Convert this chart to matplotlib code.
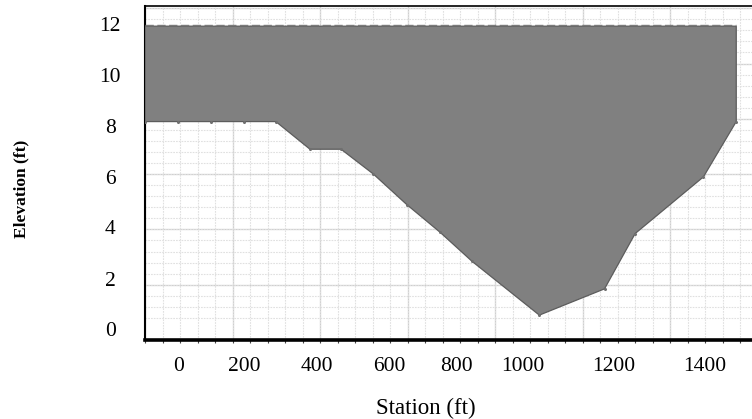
import matplotlib
matplotlib.use("Agg")
import matplotlib.pyplot as plt
import numpy as np

# ---- data ----
station = [0, 76, 151, 226, 299, 377, 448, 522, 598, 674, 747, 901, 1050, 1120, 1276, 1351]
elevation = [7.9, 7.9, 7.9, 7.9, 7.9, 6.9, 6.9, 6.0, 4.9, 3.9, 2.85, 0.9, 1.85, 3.85, 5.9, 7.9]
water_surface = 11.35
energy_grade = 11.41

xtick_labels = ["0", "200", "400", "600", "800", "1000", "1200", "1400"]
ytick_labels = ["0", "2", "4", "6", "8", "10", "12"]

# positions where the (offset) labels appear in the reference, in data units
xtick_pos = [76, 227, 392, 559, 711, 863, 1072, 1278]
ytick_pos = [0.40, 2.21, 4.07, 5.88, 7.74, 9.59, 11.43]

serif = "Liberation Serif"

fig = plt.figure(figsize=(7.52, 4.19), dpi=100)
ax = fig.add_axes([145 / 752, 79 / 419, 607 / 752, 334 / 419])
ax.set_xlim(0, 1387)
ax.set_ylim(0, 12.08)

# grid
ax.set_xticks(np.arange(0, 1387, 40), minor=True)
ax.set_yticks(np.arange(0, 12.08, 0.4), minor=True)
ax.grid(which="minor", color="#e0e0e0", lw=0.8, ls=(0, (1.5, 1)), zorder=0)
for v in np.arange(0, 1387, 200):
    ax.axvline(v, color="#cdcdcd", lw=0.9, zorder=1)
for h in np.arange(0, 12.1, 2):
    ax.axhline(h, color="#cdcdcd", lw=0.9, zorder=1)

# wetted cross-section
poly_x = [station[0]] + station + [station[-1]]
poly_y = [water_surface] + elevation + [water_surface]
ax.fill(poly_x, poly_y, facecolor="#808080", edgecolor="#5c5c5c", lw=0.9, zorder=3)
ax.plot(station, elevation, "o", ms=1.2, color="#707070", zorder=4)
ax.hlines(energy_grade, station[0], station[-1], colors="#7a7a7a",
          linestyles=(0, (6, 2.5)), lw=1, zorder=4)

# spines
ax.spines["right"].set_visible(False)
ax.spines["top"].set_linewidth(1.2)
ax.spines["left"].set_linewidth(1.5)
ax.spines["bottom"].set_linewidth(2.6)
for s in ax.spines.values():
    s.set_color("black")

# ticks / labels
ax.set_xticks(xtick_pos, xtick_labels)
ax.set_yticks(ytick_pos, ytick_labels)
ax.tick_params(which="major", length=0)
ax.tick_params(axis="x", which="major", pad=12, labelsize=15.5)
ax.tick_params(axis="y", which="major", pad=25, labelsize=15.5)
ax.tick_params(axis="x", which="minor", length=2.5, width=0.8, color="#444444", direction="out")
ax.tick_params(axis="y", which="minor", length=0)
for lbl in ax.get_xticklabels() + ax.get_yticklabels():
    lbl.set_family(serif)
for lbl in ax.get_yticklabels():
    lbl.set_ha("center")

ax.set_xlabel("Station (ft)", family=serif, fontsize=16.5)
ax.xaxis.set_label_coords((426 - 145) / 607, (340 - 408) / 334)
ax.xaxis.label.set_va("center")
ax.set_ylabel("Elevation (ft)", family=serif, fontsize=12.5, fontweight="bold")
ax.yaxis.set_label_coords((21.5 - 145) / 607, (340 - 189) / 334)
ax.yaxis.label.set_ha("center")
ax.yaxis.label.set_va("center")

fig.savefig("out.png", dpi=100)
